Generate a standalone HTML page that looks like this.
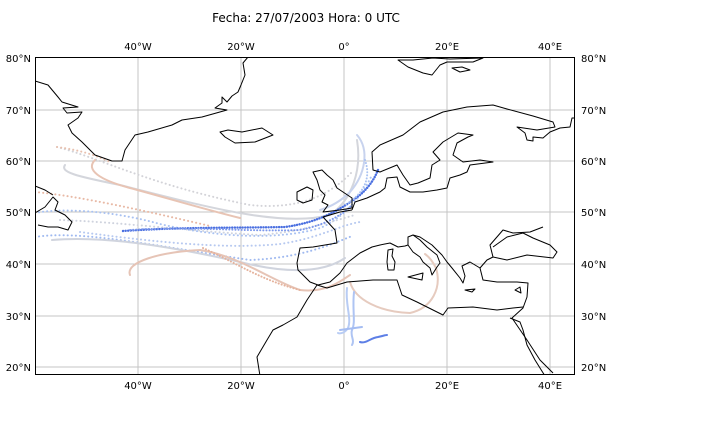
<!DOCTYPE html>
<html><head><meta charset="utf-8"><style>
body{margin:0;background:#fff;width:720px;height:432px;overflow:hidden}
svg{display:block}
text{font-family:"DejaVu Sans","Liberation Sans",sans-serif;font-size:10px;fill:#000}
</style></head><body>
<svg width="720" height="432" viewBox="0 0 720 432" xmlns="http://www.w3.org/2000/svg">
<defs><clipPath id="c"><rect x="35" y="57" width="540" height="318"/></clipPath></defs>
<text x="306" y="22" text-anchor="middle" style="font-size:12px">Fecha: 27/07/2003 Hora: 0 UTC</text>
<g stroke="#c4c4c4" stroke-width="1">
<line x1="138" y1="57" x2="138" y2="375"/><line x1="241" y1="57" x2="241" y2="375"/><line x1="344" y1="57" x2="344" y2="375"/><line x1="447" y1="57" x2="447" y2="375"/><line x1="550" y1="57" x2="550" y2="375"/>
<line x1="35" y1="110" x2="575" y2="110"/><line x1="35" y1="161" x2="575" y2="161"/><line x1="35" y1="212" x2="575" y2="212"/><line x1="35" y1="264" x2="575" y2="264"/><line x1="35" y1="316" x2="575" y2="316"/><line x1="35" y1="367" x2="575" y2="367"/>
</g>
<g clip-path="url(#c)" fill="none" stroke-linecap="round">
<path d="M57,147 C100,158 150,185 250,205 C300,210 330,195 352,172" stroke="#d3d3d8" stroke-width="2" stroke-dasharray="0.1 4"/>
<path d="M57,147 C80,150 95,155 110,162" stroke="#e8c0ae" stroke-width="2" stroke-dasharray="0.1 4"/>
<path d="M65,165 C60,172 75,176 120,185 C200,205 280,228 330,215 C352,200 362,170 357,140" stroke="#d4d6dc" stroke-width="2"/>
<path d="M95,160 C85,170 100,180 130,188 C160,196 200,208 240,218" stroke="#e8c4b4" stroke-width="2"/>
<path d="M35,192 C80,196 150,212 210,226" stroke="#e8b9a5" stroke-width="2" stroke-dasharray="0.1 4"/>
<path d="M35,213 C60,208 110,210 160,224 C220,238 280,240 320,228 C340,220 360,200 372,175" stroke="#a9c2f2" stroke-width="2" stroke-dasharray="0.1 4"/>
<path d="M60,220 C120,222 200,232 260,235 C300,232 330,222 355,215" stroke="#cfd3de" stroke-width="2" stroke-dasharray="0.1 4"/>
<path d="M123,231 C180,227 240,228 285,227 C320,222 340,210 360,195 C368,188 374,180 378,170" stroke="#4a6fe0" stroke-width="2.4" stroke-dasharray="0.1 2.5"/>
<path d="M130,230 C190,226 250,232 300,230 C330,224 345,212 352,205" stroke="#7c98ec" stroke-width="2" stroke-dasharray="0.1 3"/>
<path d="M80,232 C140,240 220,250 280,244 C320,238 340,225 360,222" stroke="#b7c9f0" stroke-width="2" stroke-dasharray="0.1 4"/>
<path d="M35,237 C80,230 150,245 250,260 C300,258 330,245 352,236" stroke="#9fb9f0" stroke-width="2" stroke-dasharray="0.1 4"/>
<path d="M52,240 C100,236 160,244 240,262 C280,272 320,275 345,258" stroke="#d0d4de" stroke-width="2"/>
<path d="M130,275 C125,262 160,252 200,250 C240,256 270,280 300,290 C325,293 340,282 350,275" stroke="#e6c4b6" stroke-width="2"/>
<path d="M203,248 C235,262 260,280 300,290" stroke="#e5b39d" stroke-width="2" stroke-dasharray="0.1 3"/>
<path d="M350,282 C355,300 380,312 410,313 C432,308 442,288 436,268 C432,260 428,256 425,254" stroke="#e6cbbf" stroke-width="2"/>
<path d="M357,135 C370,150 365,175 350,192 C340,202 330,207 320,210" stroke="#c8d3ee" stroke-width="2"/>
<path d="M365,160 C372,180 362,195 345,205" stroke="#a9c2f2" stroke-width="2" stroke-dasharray="0.1 3"/>
<path d="M347,288 C345,305 352,318 348,328 C345,333 340,334 338,333" stroke="#b8ccf4" stroke-width="2"/>
<path d="M354,292 C352,310 356,322 352,330 C350,336 355,340 352,345" stroke="#aec4f3" stroke-width="2"/>
<path d="M340,330 L362,327" stroke="#a4bcf2" stroke-width="2"/>
<path d="M360,342 C366,344 370,338 378,337 C383,336 385,335 387,335" stroke="#5d7fe6" stroke-width="2"/>
</g>
<g clip-path="url(#c)" fill="none" stroke="#000" stroke-width="1" stroke-linejoin="round">
<path d="M35,81 L48,85 L58,97 L62,102 L78,107 L63,108 L67,113 L82,112 L78,118 L68,125 L72,133 L82,142 L95,155 L112,161 L122,161 L125,150 L135,135 L148,132 L172,125 L182,120 L202,117 L227,110 L215,108 L222,103 L222,97 L227,102 L232,96 L238,92 L241,85 L245,75 L243,63 L248,57 L258,55"/>
<path d="M220,132 L228,130 L242,132 L262,128 L273,135 L255,142 L235,143 L230,140 L225,137 Z"/>
<path d="M398,60 L413,60 L433,58 L450,59 L483,58 L473,62 L447,62 L440,65 L432,75 L423,73 L408,67 Z"/>
<path d="M452,68 L462,67 L470,70 L460,72 Z"/>
<path d="M577,118 L572,118 L570,127 L560,128 L550,132 L543,138 L533,137 L533,141 L527,140 L525,133 L517,127 L537,130 L555,127 L553,122 L533,116 L507,109 L493,105 L467,107 L443,112 L420,122 L403,135 L380,145 L372,152 L373,170 L380,172 L397,165 L403,175 L410,185 L418,183 L430,178 L432,165 L440,160 L433,152 L443,142 L458,133 L473,135 L468,137 L457,143 L453,155 L463,162 L480,160 L493,162 L470,165 L467,172 L460,175 L450,178 L447,188 L437,190 L423,192 L410,192 L400,187 L397,177 L387,178 L385,188 L380,192 L367,198 L355,202 L352,210"/>
<!-- France / Iberia / Italy -->
<path d="M352,210 L340,212 L323,217 L335,230 L337,243 L313,247 L300,248 L297,263 L298,270 L303,275 L310,282 L318,285 L330,282 L340,273 L347,263 L360,253 L372,247 L380,245 L390,243 L398,247 L405,246 L408,245 L413,252 L420,257 L423,262 L430,268 L432,275 L437,267 L440,263 L437,255 L427,247 L420,240 L413,235 L408,237 L408,245"/>
<!-- Balkans / Black Sea / Turkey -->
<path d="M413,235 L420,237 L432,245 L442,255 L447,262 L452,268 L460,278 L463,283 L465,276 L462,266 L470,262 L480,268 L487,260 L493,257 L490,245 L503,230 L513,233 L530,232 L543,227"/>
<path d="M493,257 L507,260 L527,255 L553,258 L557,252 L550,245 L533,238 L523,233 L507,237 L493,247"/>
<path d="M480,268 L483,280 L497,282 L517,282 L528,283 L527,297 L523,308 L512,318 L527,340 L540,360 L553,373"/>
<path d="M510,318 L520,322 L523,330 L527,345 L535,360 L545,376"/>
<path d="M317,285 L327,288 L347,282 L373,280 L397,280 L402,295 L417,302 L437,312 L443,315 L448,308 L473,307 L497,310 L513,308 L523,307"/>
<path d="M317,285 L307,300 L297,317 L283,325 L273,330 L267,340 L257,357 L260,376"/>
<path d="M388,250 L393,249 L392,256 L395,262 L394,270 L388,270 L387,262 Z"/>
<path d="M408,277 L423,273 L422,280 Z"/>
<path d="M465,290 L475,289 L472,292 Z"/>
<path d="M515,290 L520,287 L521,293 Z"/>
<path d="M313,172 L322,170 L327,175 L333,180 L337,188 L343,192 L352,198 L352,208 L340,210 L323,212 L328,205 L322,202 L325,195 L320,190 L317,180 Z"/>
<path d="M297,192 L307,187 L313,190 L312,200 L303,203 L297,200 Z"/>
<path d="M35,186 L45,190 L53,195"/>
<path d="M35,213 L45,207 L53,197 L58,202 L55,210 L65,215 L72,222 L68,230 L58,227 L48,227 L38,225"/>
</g>
<rect x="35.5" y="57.5" width="539" height="317" fill="none" stroke="#000" stroke-width="1"/>
<g text-anchor="middle">
<text x="138" y="50">40°W</text><text x="241" y="50">20°W</text><text x="344" y="50">0°</text><text x="447" y="50">20°E</text><text x="550" y="50">40°E</text>
</g>
<g text-anchor="end">
<text x="31" y="62">80°N</text><text x="31" y="114">70°N</text><text x="31" y="165">60°N</text><text x="31" y="216">50°N</text><text x="31" y="268">40°N</text><text x="31" y="320">30°N</text><text x="31" y="371">20°N</text>
</g>
<g>
<text x="581" y="62">80°N</text><text x="581" y="114">70°N</text><text x="581" y="165">60°N</text><text x="581" y="216">50°N</text><text x="581" y="268">40°N</text><text x="581" y="320">30°N</text><text x="581" y="371">20°N</text>
</g>
<g text-anchor="middle">
<text x="138" y="389">40°W</text><text x="241" y="389">20°W</text><text x="344" y="389">0°</text><text x="447" y="389">20°E</text><text x="550" y="389">40°E</text>
</g>
</svg>
</body></html>
